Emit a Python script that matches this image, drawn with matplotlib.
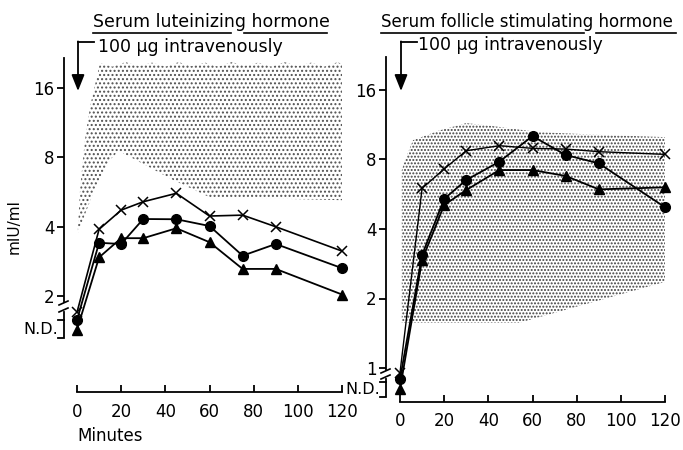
import numpy as np
import matplotlib
matplotlib.use("Agg")
import matplotlib.pyplot as plt
from matplotlib.lines import Line2D

# ---------------- data ----------------
minutes = [0, 10, 20, 30, 45, 60, 75, 90, 120]

lh_cross = [1.70, 3.89, 4.71, 5.12, 5.57, 4.44, 4.48, 3.99, 3.13]
lh_circle = [1.575, 3.40, 3.36, 4.31, 4.30, 4.02, 2.99, 3.36, 2.64]
lh_triangle = [1.43, 2.94, 3.56, 3.56, 3.93, 3.42, 2.62, 2.62, 2.03]

fsh_cross = [0.955, 6.0, 7.28, 8.73, 9.18, 8.94, 8.88, 8.65, 8.42]
fsh_circle = [0.896, 3.09, 5.4, 6.52, 7.83, 10.1, 8.37, 7.70, 4.97]
fsh_triangle = [0.81, 2.94, 5.08, 5.9, 7.2, 7.2, 6.79, 5.94, 6.06]

# normal range (stippled band) outlines
lh_band_upper_t = [0.4, 1.4, 3.6, 5.9, 10.4, 16, 22, 28, 34, 40, 46, 52, 58, 64, 70,
                   76, 82, 88, 94, 100, 106, 112, 118, 120]
lh_band_upper_v = [3.9, 5.8, 9.5, 13.2, 20.4, 19.7, 20.6, 19.8, 20.5, 19.7, 20.6, 19.8,
                   20.5, 19.7, 20.6, 19.9, 20.5, 19.7, 20.6, 19.8, 20.5, 19.7, 20.6, 20.2]
lh_band_lower_t = [120, 60, 43, 19, 15, 7.3, 0.4]
lh_band_lower_v = [5.2, 5.36, 6.4, 8.5, 7.8, 5.58, 3.75]

fsh_band_upper_t = [0.8, 2.3, 5.9, 18, 30, 41, 63, 94, 120]
fsh_band_upper_v = [7.2, 7.96, 9.7, 10.7, 11.5, 11.2, 10.5, 10.2, 10.0]
fsh_band_lower_t = [120, 54, 0.8]
fsh_band_lower_v = [2.36, 1.57, 1.57]

yticks_lh = [2, 4, 8, 16]
yticks_fsh = [1, 2, 4, 8, 16]
xticks = [0, 20, 40, 60, 80, 100, 120]
xtick_labels = ["0", "20", "40", "60", "80", "100", "120"]

titles = ["Serum luteinizing hormone", "Serum follicle stimulating hormone"]
injection_text = "100 \u03bcg intravenously"

# ---------------- figure ----------------
W, H = 683, 450
fig = plt.figure(figsize=(W / 100, H / 100), dpi=100)
plt.rcParams["font.family"] = ["DejaVu Sans"]
plt.rcParams["hatch.linewidth"] = 0.95

FS = 12


def make_panel(px_left, px_right, px_top, px_bottom, py_ref, log_ref):
    ax = fig.add_axes([px_left / W, 1 - px_bottom / H,
                       (px_right - px_left) / W, (px_bottom - px_top) / H])
    ppu = 69.5  # pixels per doubling
    lo = 2 ** (log_ref + (py_ref - px_bottom) / ppu)
    hi = 2 ** (log_ref + (py_ref - px_top) / ppu)
    ax.set_yscale("log", base=2)
    ax.set_ylim(lo, hi)
    ax.set_xlim(0, 120)
    ax.set_facecolor("none")

    def v_of(py):
        return 2 ** (log_ref + (py_ref - py) / ppu)

    return ax, v_of


def ax_frac(px, py, px_left, px_right, px_top, px_bottom):
    return ((px - px_left) / (px_right - px_left), (px_bottom - py) / (px_bottom - px_top))


panels = [
    dict(pl=77, pr=342, pt=58, pb=392, pyref=296, logref=1, axis=64,
         brk=(302, 312), bracket=(320, 338), nd_y=329, nd_x=58,
         yticks=yticks_lh, upper_t=lh_band_upper_t, upper_v=lh_band_upper_v,
         lower_t=lh_band_lower_t, lower_v=lh_band_lower_v, hatch="....", hcol="#505050",
         cross=lh_cross, circle=lh_circle, tri=lh_triangle,
         title=titles[0], title_fs=FS + 0.5, title_x=93, title_y=22,
         ul=[(93, 231), (244, 327)], ul_y=33,
         inj_x=98, inj_y=47, arrow_x=78, arrow_from=(94, 42), arrow_tip=91,
         xlab_pad=8),
    dict(pl=400, pr=665, pt=57, pb=402, pyref=368, logref=0, axis=386,
         brk=(370, 379), bracket=(382, 397), nd_y=389, nd_x=380,
         yticks=yticks_fsh, upper_t=fsh_band_upper_t, upper_v=fsh_band_upper_v,
         lower_t=fsh_band_lower_t, lower_v=fsh_band_lower_v, hatch=".....", hcol="#404040",
         cross=fsh_cross, circle=fsh_circle, tri=fsh_triangle,
         title=titles[1], title_fs=FS, title_x=381, title_y=22,
         ul=[(381, 584), (596, 676)], ul_y=33,
         inj_x=418, inj_y=45, arrow_x=401, arrow_from=(417, 42), arrow_tip=91,
         xlab_pad=7),
]

for i, P in enumerate(panels):
    ax, v_of = make_panel(P["pl"], P["pr"], P["pt"], P["pb"], P["pyref"], P["logref"])

    # stippled normal range
    bt = list(P["upper_t"]) + list(P["lower_t"])
    bv = list(P["upper_v"]) + list(P["lower_v"])
    ax.fill(bt, bv, facecolor="white", edgecolor=P["hcol"], hatch=P["hatch"],
            linewidth=0, zorder=1)

    # series
    lw = 1.3
    ax.plot(minutes, P["cross"], color="black", lw=1.0 if i == 1 else 1.2,
            marker="x", ms=6.5, mew=1.1, clip_on=False, zorder=4)
    ax.plot(minutes, P["circle"], color="black", lw=lw, marker="o", ms=7,
            clip_on=False, zorder=4)
    ax.plot(minutes, P["tri"], color="black", lw=lw, marker="^", ms=7.5,
            clip_on=False, zorder=4)

    # spines
    for s in ["top", "right"]:
        ax.spines[s].set_visible(False)
    offset_pts = (P["pl"] - P["axis"]) * 72 / 100
    ax.spines["left"].set_position(("outward", offset_pts))
    ax.spines["left"].set_bounds(v_of(P["brk"][0]), v_of(P["pt"]))
    ax.spines["left"].set_linewidth(1.3)
    ax.spines["bottom"].set_bounds(0, 120)
    ax.spines["bottom"].set_linewidth(1.3)

    ax.yaxis.set_major_locator(matplotlib.ticker.FixedLocator(P["yticks"]))
    ax.yaxis.set_minor_locator(matplotlib.ticker.NullLocator())
    ax.set_yticklabels([str(t) for t in P["yticks"]])
    ax.tick_params(axis="y", direction="out", length=5, width=1.3, pad=2, labelsize=FS)
    ax.set_xticks(xticks)
    ax.set_xticklabels(xtick_labels)
    ax.tick_params(axis="x", direction="in", length=5, width=1.3, pad=P["xlab_pad"],
                   labelsize=FS)

    # lower (N.D.) segment, break marks and bracket, in axes fractions
    def F(px, py):
        return ax_frac(px, py, P["pl"], P["pr"], P["pt"], P["pb"])

    a = P["axis"]
    b0, b1 = P["bracket"]
    seg = [F(a - 6, b0), F(a, b0), F(a, b1), F(a - 6, b1)]
    seg_top = [F(a, P["brk"][1]), F(a, b0)]
    for pts in (seg, seg_top):
        xs, ys = zip(*pts)
        ax.add_line(Line2D(xs, ys, transform=ax.transAxes, color="black", lw=1.3,
                           clip_on=False, solid_joinstyle="miter"))
    for yb in (P["brk"][0] + 1, P["brk"][1] - 2):
        p1 = F(a - 5, yb + 2)
        p2 = F(a + 4, yb - 2)
        ax.add_line(Line2D([p1[0], p2[0]], [p1[1], p2[1]], transform=ax.transAxes,
                           color="black", lw=1.2, clip_on=False))
    nx, ny = F(P["nd_x"], P["nd_y"])
    ax.text(nx, ny, "N.D.", transform=ax.transAxes, ha="right", va="center",
            fontsize=FS - 0.5)

    # title with broken underline
    fig.text(P["title_x"] / W, 1 - P["title_y"] / H, P["title"], ha="left",
             va="center", fontsize=P["title_fs"])
    for x0, x1 in P["ul"]:
        fig.add_artist(Line2D([x0 / W, x1 / W], [1 - P["ul_y"] / H] * 2,
                              transform=fig.transFigure, color="black", lw=1.2))

    # injection arrow
    fig.text(P["inj_x"] / W, 1 - P["inj_y"] / H, injection_text, ha="left",
             va="center", fontsize=FS + 0.5)
    ax0, ay0 = P["arrow_from"]
    fig.add_artist(Line2D([ax0 / W, P["arrow_x"] / W], [1 - ay0 / H] * 2,
                          transform=fig.transFigure, color="black", lw=1.3))
    ax.annotate("", xy=(P["arrow_x"], H - P["arrow_tip"]), xycoords="figure pixels",
                xytext=(P["arrow_x"], H - ay0 + 0.6), textcoords="figure pixels",
                arrowprops=dict(arrowstyle="-|>,head_length=0.7,head_width=0.28",
                                mutation_scale=14, lw=1.3, color="black",
                                shrinkA=0, shrinkB=0))

    if i == 0:
        ax.set_ylabel("mIU/ml", fontsize=FS - 1)
        ax.yaxis.set_label_coords(*F(22, 227))
        fig.text(77 / W, 1 - 436 / H, "Minutes", ha="left", va="center", fontsize=FS)

fig.savefig("out.png", dpi=100)
